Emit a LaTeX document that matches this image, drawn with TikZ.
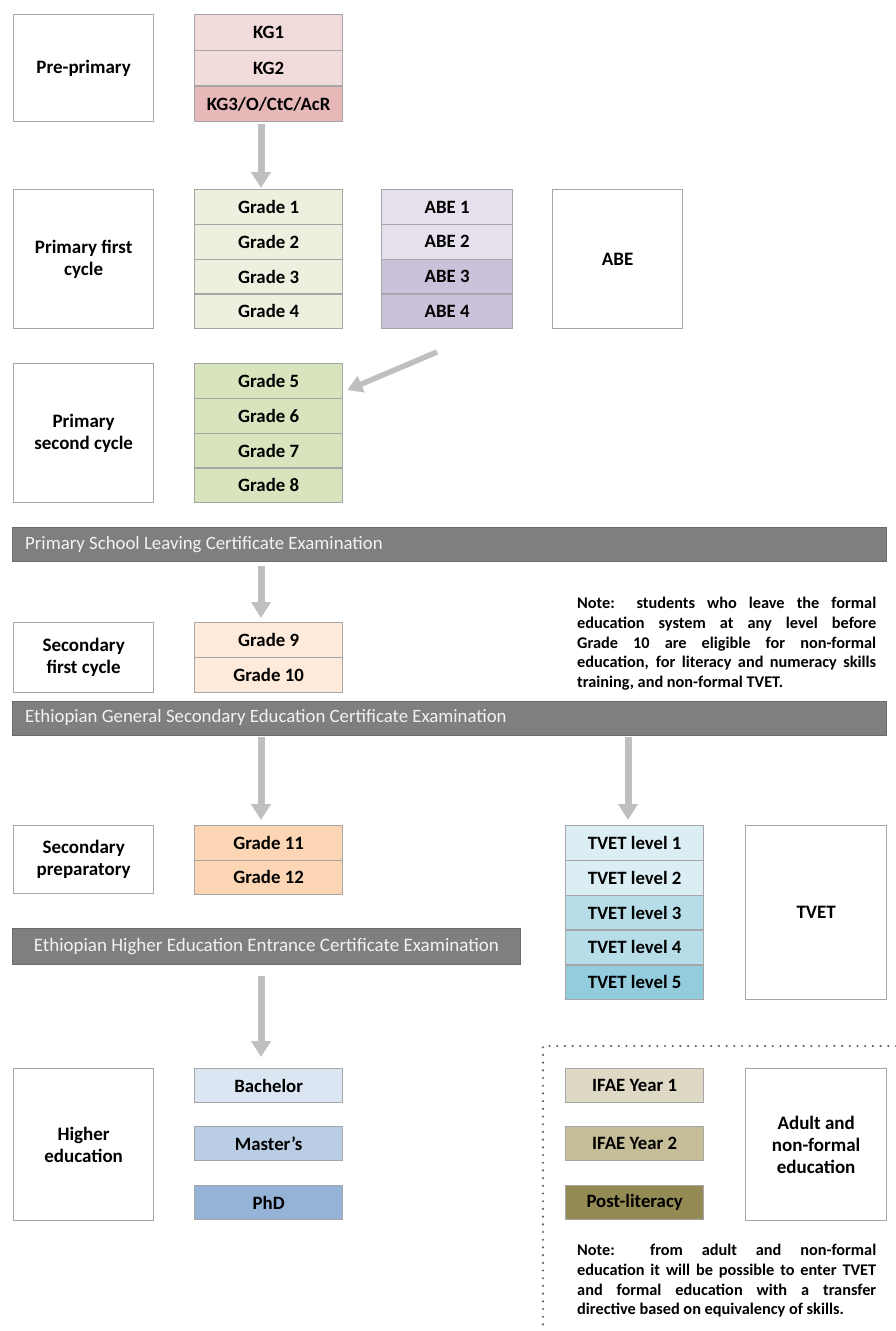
\documentclass[tikz,border=0pt]{standalone}
\usepackage{fontspec}
\setmainfont{Carlito}
\usetikzlibrary{arrows.meta}
\definecolor{kgA}{HTML}{F2DCDB}
\definecolor{kgB}{HTML}{E6B9B8}
\definecolor{grA}{HTML}{EBF1DE}
\definecolor{grB}{HTML}{D7E4BD}
\definecolor{abeA}{HTML}{E6E0EC}
\definecolor{abeB}{HTML}{CCC1DA}
\definecolor{secA}{HTML}{FDEADA}
\definecolor{secB}{HTML}{FCD5B5}
\definecolor{bachC}{HTML}{DCE6F2}
\definecolor{mastC}{HTML}{B9CDE5}
\definecolor{phdC}{HTML}{95B3D7}
\definecolor{tvA}{HTML}{DBEEF4}
\definecolor{tvB}{HTML}{B7DEE8}
\definecolor{tvC}{HTML}{93CDDD}
\definecolor{ifA}{HTML}{DDD9C4}
\definecolor{ifB}{HTML}{C4BD97}
\definecolor{ifC}{HTML}{948A54}
\definecolor{barC}{HTML}{7F7F7F}
\definecolor{bordC}{HTML}{A6A6A6}
\definecolor{arrC}{HTML}{BFBFBF}
\definecolor{barT}{HTML}{F2F2F2}
\begin{document}
\begin{tikzpicture}[x=1pt,y=-1pt,
  cell/.style={draw=bordC, line width=1.3pt, minimum width=148pt, minimum height=#1,
    inner sep=0pt, anchor=north west, font=\bfseries\fontsize{18.8}{20}\selectfont},
  cell/.default=34.75pt,
  lbl/.style={draw=bordC, line width=1.3pt, fill=white, inner sep=0pt, anchor=north west,
    align=center, font=\bfseries\fontsize{19}{22}\selectfont},
  bar/.style={fill=barC, draw=barC!85!black, line width=0.8pt, inner sep=0pt, anchor=north west,
    minimum height=34pt, text=barT, font=\fontsize{19}{20}\selectfont},
  bartext/.style={anchor=west, inner sep=0pt, text=barT, font=\fontsize{18.8}{20}\selectfont},
  bigarrow/.style={draw=arrC, line width=7pt, -{Triangle[width=19pt,length=16pt]}},
  note/.style={anchor=north west, inner sep=0pt, text width=299pt, align=justify,
    font=\bfseries\fontsize{16.3}{19.7}\selectfont},
  dotline/.style={draw=gray!75!black, line width=2.4pt, line cap=round, dash pattern=on 0pt off 7.7pt}
]
\useasboundingbox (0,0) rectangle (896,1331);

% Pre-primary
\node[lbl, minimum width=140pt, minimum height=107pt] (pre) at (13,14) {Pre-primary};
\node[cell=35.7pt, fill=kgA] (kg1) at (194,14) {KG1};
\node[cell=35.7pt, fill=kgA] (kg2) at (194,49.7) {KG2};
\node[cell=35.7pt, fill=kgB] (kg3) at (194,85.4) {KG3/O/CtC/AcR};

% Primary first cycle
\node[lbl, minimum width=140pt, minimum height=139pt] (pfc) at (13,189) {Primary first\\cycle};
\node[cell, fill=grA] (g1) at (194,189) {Grade 1};
\node[cell, fill=grA] (g2) at (194,223.75) {Grade 2};
\node[cell, fill=grA] (g3) at (194,258.5) {Grade 3};
\node[cell, fill=grA] (g4) at (194,293.25) {Grade 4};
\node[cell, fill=abeA, minimum width=131pt] (abe1) at (381,189) {ABE 1};
\node[cell, fill=abeA, minimum width=131pt] (abe2) at (381,223.75) {ABE 2};
\node[cell, fill=abeB, minimum width=131pt] (abe3) at (381,258.5) {ABE 3};
\node[cell, fill=abeB, minimum width=131pt] (abe4) at (381,293.25) {ABE 4};
\node[lbl, minimum width=130pt, minimum height=139pt] (abe) at (552,189) {ABE};

% Primary second cycle
\node[lbl, minimum width=140pt, minimum height=139pt] (psc) at (13,363) {Primary\\second cycle};
\node[cell, fill=grB] (g5) at (194,363) {Grade 5};
\node[cell, fill=grB] (g6) at (194,397.75) {Grade 6};
\node[cell, fill=grB] (g7) at (194,432.5) {Grade 7};
\node[cell, fill=grB] (g8) at (194,467.25) {Grade 8};

% Bar 1
\node[bar, minimum width=874pt] (bar1) at (12,527) {};
\node[bartext] (bar1t) at ([xshift=13pt]bar1.west) {Primary School Leaving Certificate Examination};

% Secondary first cycle
\node[lbl, minimum width=140pt, minimum height=70pt] (sfc) at (13,622) {Secondary\\first cycle};
\node[cell=35pt, fill=secA] (g9) at (194,622) {Grade 9};
\node[cell=35pt, fill=secA] (g10) at (194,657) {Grade 10};
\node[note] (note1) at (577,597)
  {Note: students who leave the formal\linebreak
   education system at any level before\linebreak
   Grade 10 are eligible for non-formal\linebreak
   education, for literacy and numeracy skills\linebreak
   training, and non-formal TVET.};

% Bar 2
\node[bar, minimum width=874pt] (bar2) at (12,700.5) {};
\node[bartext] (bar2t) at ([xshift=13pt]bar2.west) {Ethiopian General Secondary Education Certificate Examination};

% Secondary preparatory
\node[lbl, minimum width=140pt, minimum height=68pt] (sp) at (13,825) {Secondary\\preparatory};
\node[cell=34.5pt, fill=secB] (g11) at (194,825) {Grade 11};
\node[cell=34.5pt, fill=secB] (g12) at (194,859.5) {Grade 12};

% TVET
\node[cell=34.8pt, fill=tvA, minimum width=138pt] (tv1) at (565,825) {TVET level 1};
\node[cell=34.8pt, fill=tvA, minimum width=138pt] (tv2) at (565,859.8) {TVET level 2};
\node[cell=34.8pt, fill=tvB, minimum width=138pt] (tv3) at (565,894.6) {TVET level 3};
\node[cell=34.8pt, fill=tvB, minimum width=138pt] (tv4) at (565,929.4) {TVET level 4};
\node[cell=34.8pt, fill=tvC, minimum width=138pt] (tv5) at (565,964.2) {TVET level 5};
\node[lbl, minimum width=141pt, minimum height=174pt] (tvet) at (745,825) {TVET};

% Bar 3
\node[bar, minimum width=508pt, minimum height=36pt] (bar3) at (12,928)
  {Ethiopian Higher Education Entrance Certificate Examination};

% Higher education
\node[lbl, minimum width=140pt, minimum height=152pt] (he) at (13,1068) {Higher\\education};
\node[cell=34pt, fill=bachC] (bach) at (194,1068) {Bachelor};
\node[cell=34pt, fill=mastC] (mast) at (194,1126) {Master’s};
\node[cell=34pt, fill=phdC] (phd) at (194,1185) {PhD};

% Adult and non-formal
\draw[dotline] (896,1046) -- (543,1046) -- (543,1331);
\node[cell=34pt, fill=ifA, minimum width=138pt] (if1) at (565,1068) {IFAE Year 1};
\node[cell=34pt, fill=ifB, minimum width=138pt] (if2) at (565,1126) {IFAE Year 2};
\node[cell=34pt, fill=ifC, minimum width=138pt] (if3) at (565,1185) {Post-literacy};
\node[lbl, minimum width=141pt, minimum height=152pt] (adult) at (745,1068) {Adult and\\non-formal\\education};
\node[note] (note2) at (577,1244)
  {Note: from adult and non-formal\linebreak
   education it will be possible to enter TVET\linebreak
   and formal education with a transfer\linebreak
   directive based on equivalency of skills.};

% Arrows
\coordinate (colA) at (261,0);
\coordinate (colB) at (628,0);
\coordinate (abetail) at (437,352);
\draw[bigarrow, shorten <=2pt, shorten >=1pt] (colA |- kg3.south) -- (colA |- g1.north);
\draw[draw=arrC, line width=5.5pt, -{Triangle[width=17pt,length=15pt]}] (abetail) -- ([xshift=4pt,yshift=-9pt]g5.east);
\draw[bigarrow, shorten <=4pt, shorten >=4pt] (colA |- bar1.south) -- (colA |- g9.north);
\draw[bigarrow, shorten <=2pt, shorten >=5pt] (colA |- bar2.south) -- (colA |- g11.north);
\draw[bigarrow, shorten <=2pt, shorten >=5pt] (colB |- bar2.south) -- (colB |- tv1.north);
\draw[bigarrow, shorten <=11pt, shorten >=11pt] (colA |- bar3.south) -- (colA |- bach.north);
\end{tikzpicture}
\end{document}
